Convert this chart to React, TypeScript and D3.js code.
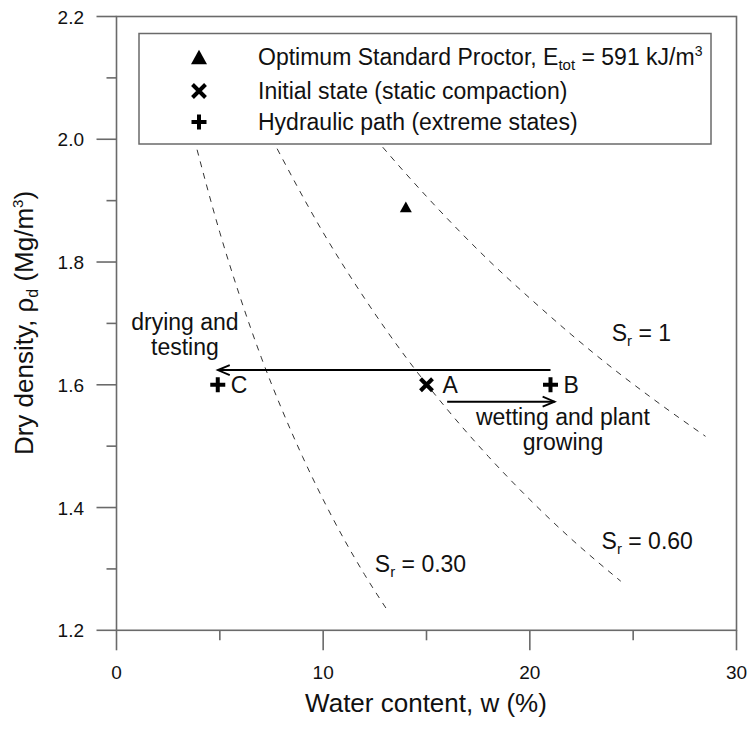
import React from "react";
import * as d3 from "d3";

// ---- data ----
const xTicks = [0, 10, 20, 30];
const xMinorTicks = [5, 15, 25];
const yTicks = [1.2, 1.4, 1.6, 1.8, 2.0, 2.2];
const yMinorTicks = [1.3, 1.5, 1.7, 1.9, 2.1];

// saturation lines (w %, dry density Mg/m3)
const sr100: [number, number][] = [
  [12.5, 2.002], [14, 1.944], [16, 1.871], [18, 1.803], [20, 1.741],
  [22, 1.682], [24, 1.627], [26, 1.576], [28.5, 1.516],
];
const sr060: [number, number][] = [
  [7.5, 2.002], [10, 1.848], [12, 1.741], [14, 1.645], [16, 1.56],
  [18, 1.483], [20, 1.413], [22, 1.349], [24.4, 1.28],
];
const sr030: [number, number][] = [
  [3.75, 2.002], [5, 1.848], [6, 1.741], [7, 1.645], [8, 1.56],
  [9, 1.483], [10, 1.413], [11, 1.349], [12, 1.291], [13.1, 1.233],
];

const optimumPoints = [{ w: 14, rd: 1.89 }];
const initialPoints = [{ w: 15, rd: 1.6, label: "A" }];
const hydraulicPoints = [
  { w: 21, rd: 1.6, label: "B" },
  { w: 4.9, rd: 1.6, label: "C" },
];
const dryingPath: [number, number][] = [[21.0, 1.624], [4.9, 1.624]];
const wettingPath: [number, number][] = [[16.0, 1.5725], [21.2, 1.5725]];

const FONT = "'Liberation Sans', Arial, sans-serif";

export default function App() {
  const W = 751, H = 729;
  const x = d3.scaleLinear().domain([0, 30]).range([116.5, 736.5]);
  const y = d3.scaleLinear().domain([1.2, 2.2]).range([630.3, 16.5]);
  const line = d3
    .line<[number, number]>()
    .x((d) => x(d[0]))
    .y((d) => y(d[1]))
    .curve(d3.curveMonotoneX);

  const axisColor = "#6a6a6a";
  const x0 = x(0), x1 = x(30), y0 = y(1.2), y1 = y(2.2);

  const arrowLeft = (px: number, py: number) =>
    `M${px + 12},${py - 5} L${px},${py} L${px + 12},${py + 5}`;
  const arrowRight = (px: number, py: number) =>
    `M${px - 12},${py - 5} L${px},${py} L${px - 12},${py + 5}`;

  const tri = (cx: number, cy: number, s: number) => {
    const h = s * 0.9;
    return `M${cx},${cy - h / 2} L${cx + s / 2},${cy + h / 2} L${cx - s / 2},${cy + h / 2} Z`;
  };
  const cross = (cx: number, cy: number, r: number) =>
    `M${cx - r},${cy - r} L${cx + r},${cy + r} M${cx - r},${cy + r} L${cx + r},${cy - r}`;
  const plus = (cx: number, cy: number, r: number) =>
    `M${cx - r},${cy} L${cx + r},${cy} M${cx},${cy - r} L${cx},${cy + r}`;

  const srLabel = (wv: number, rv: number, val: string, key: string) => (
    <g key={key}>
      <rect x={x(wv) - 3} y={y(rv) - 19} width={val === "1" ? 60 : 92} height={26} fill="white" />
      <text x={x(wv)} y={y(rv)} fontSize={23} fontFamily={FONT} fill="#111">
        S<tspan fontSize={15} dy={5}>r</tspan>
        <tspan dy={-5}> = {val}</tspan>
      </text>
    </g>
  );

  return (
    <svg
      width={W}
      height={H}
      style={{ position: "absolute", left: 0, top: 0, background: "white" }}
      fontFamily={FONT}
    >
      <rect x={0} y={0} width={W} height={H} fill="white" />

      {/* saturation curves */}
      {[sr100, sr060, sr030].map((d, i) => (
        <path
          key={i}
          d={line(d) || ""}
          fill="none"
          stroke="#333"
          strokeWidth={1}
          strokeDasharray="6,6"
        />
      ))}

      {/* Sr labels */}
      {srLabel(23.96, 1.671, "1", "s1")}
      {srLabel(23.47, 1.332, "0.60", "s2")}
      {srLabel(12.5, 1.2955, "0.30", "s3")}

      {/* paths */}
      <line
        x1={x(dryingPath[0][0])} y1={y(dryingPath[0][1])}
        x2={x(dryingPath[1][0])} y2={y(dryingPath[1][1])}
        stroke="#000" strokeWidth={2}
      />
      <path d={arrowLeft(x(dryingPath[1][0]), y(dryingPath[1][1]))} fill="none" stroke="#000" strokeWidth={1.8} />
      <line
        x1={x(wettingPath[0][0])} y1={y(wettingPath[0][1])}
        x2={x(wettingPath[1][0])} y2={y(wettingPath[1][1])}
        stroke="#000" strokeWidth={2}
      />
      <path d={arrowRight(x(wettingPath[1][0]), y(wettingPath[1][1]))} fill="none" stroke="#000" strokeWidth={1.8} />

      <text x={x(3.31)} y={y(1.689)} fontSize={23} textAnchor="middle" fill="#111">drying and</text>
      <text x={x(3.31)} y={y(1.689) + 25} fontSize={23} textAnchor="middle" fill="#111">testing</text>
      <text x={x(21.6)} y={y(1.534)} fontSize={23} textAnchor="middle" fill="#111">wetting and plant</text>
      <text x={x(21.6)} y={y(1.534) + 25} fontSize={23} textAnchor="middle" fill="#111">growing</text>

      {/* points */}
      {optimumPoints.map((p, i) => (
        <path key={"o" + i} d={tri(x(p.w), y(p.rd), 12)} fill="#000" />
      ))}
      {initialPoints.map((p, i) => (
        <g key={"i" + i}>
          <path d={cross(x(p.w), y(p.rd), 6)} stroke="#000" strokeWidth={4} />
          <text x={x(p.w) + 16} y={y(p.rd) + 8} fontSize={23} fill="#111">{p.label}</text>
        </g>
      ))}
      {hydraulicPoints.map((p, i) => (
        <g key={"h" + i}>
          <path d={plus(x(p.w), y(p.rd), 7.5)} stroke="#000" strokeWidth={4} />
          <text x={x(p.w) + 13} y={y(p.rd) + 8} fontSize={23} fill="#111">{p.label}</text>
        </g>
      ))}

      {/* legend */}
      <rect x={139} y={33.5} width={572} height={110.5} fill="white" stroke={axisColor} strokeWidth={1.5} />
      <path d={tri(199, 57, 16)} fill="#000" />
      <path d={cross(199, 91, 6.5)} stroke="#000" strokeWidth={4} />
      <path d={plus(199, 122, 7.5)} stroke="#000" strokeWidth={4} />
      <text x={258} y={65} fontSize={23} fill="#111">
        Optimum Standard Proctor, E<tspan fontSize={15} dy={5}>tot</tspan>
        <tspan dy={-5}> = 591 kJ/m</tspan>
        <tspan fontSize={14} dy={-9}>3</tspan>
      </text>
      <text x={258} y={99} fontSize={23} fill="#111">Initial state (static compaction)</text>
      <text x={258} y={130} fontSize={23} fill="#111">Hydraulic path (extreme states)</text>

      {/* frame */}
      <rect x={x0} y={y1} width={x1 - x0} height={y0 - y1} fill="none" stroke={axisColor} strokeWidth={1.6} />

      {/* x ticks */}
      {xTicks.map((t) => (
        <g key={"xt" + t}>
          <line x1={x(t)} x2={x(t)} y1={y0} y2={y0 + 20} stroke={axisColor} strokeWidth={1.6} />
          <text x={x(t)} y={679} fontSize={19} textAnchor="middle" fill="#111">{t}</text>
        </g>
      ))}
      {xMinorTicks.map((t) => (
        <line key={"xm" + t} x1={x(t)} x2={x(t)} y1={y0} y2={y0 + 10} stroke={axisColor} strokeWidth={1.6} />
      ))}
      {/* y ticks */}
      {yTicks.map((t) => (
        <g key={"yt" + t}>
          <line x1={x0 - 20} x2={x0} y1={y(t)} y2={y(t)} stroke={axisColor} strokeWidth={1.6} />
          <text x={84} y={y(t) + 7} fontSize={19} textAnchor="end" fill="#111">{t.toFixed(1)}</text>
        </g>
      ))}
      {yMinorTicks.map((t) => (
        <line key={"ym" + t} x1={x0 - 10} x2={x0} y1={y(t)} y2={y(t)} stroke={axisColor} strokeWidth={1.6} />
      ))}

      {/* axis titles */}
      <text x={426} y={712} fontSize={26} textAnchor="middle" fill="#111">Water content, w (%)</text>
      <text transform="translate(33,323) rotate(-90)" fontSize={26} textAnchor="middle" fill="#111">
        Dry density, ρ<tspan fontSize={16} dy={5}>d</tspan>
        <tspan dy={-5}> (Mg/m</tspan>
        <tspan fontSize={15} dy={-10}>3</tspan>
        <tspan dy={10}>)</tspan>
      </text>
    </svg>
  );
}
